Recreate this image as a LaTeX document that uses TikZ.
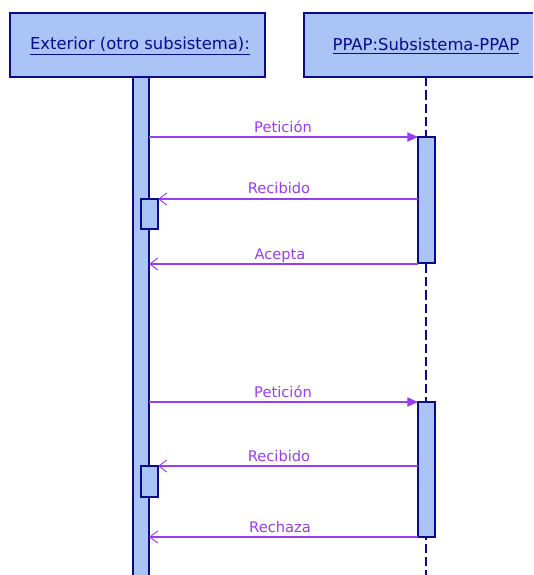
\documentclass[tikz,border=0pt]{standalone}
\usepackage{fontspec}
\setmainfont{DejaVu Sans}
\usetikzlibrary{arrows.meta}
\definecolor{umlfill}{HTML}{A9C4F5}
\definecolor{umlline}{HTML}{0A0A8C}
\definecolor{msgcol}{HTML}{9A3DF0}
\tikzset{
  x=0.75pt, y=-0.75pt,
  objbox/.style={draw=umlline, fill=umlfill, line width=2pt},
  actbar/.style={draw=umlline, fill=umlfill, line width=2pt},
  objlabel/.style={font=\fontsize{12.3}{14}\selectfont, text=umlline},
  msgline/.style={draw=msgcol, line width=0.8pt},
  synccall/.style={msgline, -{Triangle[length=8pt,width=7pt]}},
  reply/.style={msgline, -{Straight Barb[length=6pt,width=9pt,line width=0.7pt]}},
  msglabel/.style={font=\fontsize{11}{13}\selectfont, text=msgcol, anchor=base},
  lifeline/.style={draw=umlline, line width=2pt, dash pattern=on 7pt off 3pt}
}
\begin{document}
\begin{tikzpicture}
\useasboundingbox (0,0) rectangle (533,575);
\begin{scope}
\clip (0,0) rectangle (533,575);
% object headers
\draw[objbox] (10,13) rectangle (265,77);
\draw[objbox] (304,13) rectangle (545,77);
\node[objlabel] (extlbl) at (140,46) {\underline{Exterior (otro subsistema):}};
\node[objlabel] (ppaplbl) at (426,46) {\underline{PPAP:Subsistema-PPAP}};
% lifeline of PPAP (dashed) and activation bars
\draw[lifeline] (426,77) -- (426,580);
\draw[actbar] (133,77) rectangle (149,580);
\draw[actbar] (418,137) rectangle (435,263);
\draw[actbar] (418,402) rectangle (435,537);
\end{scope}
% anchors of the messages
\coordinate (m1s) at (149,137); \coordinate (m1e) at (418,137);
\coordinate (m2s) at (418,199); \coordinate (m2e) at (158,199);
\coordinate (m3s) at (418,264); \coordinate (m3e) at (149,264);
\coordinate (m4s) at (149,402); \coordinate (m4e) at (418,402);
\coordinate (m5s) at (418,466); \coordinate (m5e) at (158,466);
\coordinate (m6s) at (418,537); \coordinate (m6e) at (149,537);
% messages
\draw[synccall] (m1s) -- (m1e);
\draw[reply] (m2s) -- (m2e);
\draw[reply] (m3s) -- (m3e);
\draw[synccall] (m4s) -- (m4e);
\draw[reply] (m5s) -- (m5e);
\draw[reply] (m6s) -- (m6e);
% small nested activations, drawn over the lower barb of the replies
\draw[actbar] (141,199) rectangle (158,229);
\draw[actbar] (141,466) rectangle (158,497);
\node[msglabel] (l1) at (283,132) {Petición};
\node[msglabel] (l2) at (279,193) {Recibido};
\node[msglabel] (l3) at (280,259) {Acepta};
\node[msglabel] (l4) at (283,397) {Petición};
\node[msglabel] (l5) at (279,461) {Recibido};
\node[msglabel] (l6) at (280,532) {Rechaza};
\end{tikzpicture}
\end{document}
